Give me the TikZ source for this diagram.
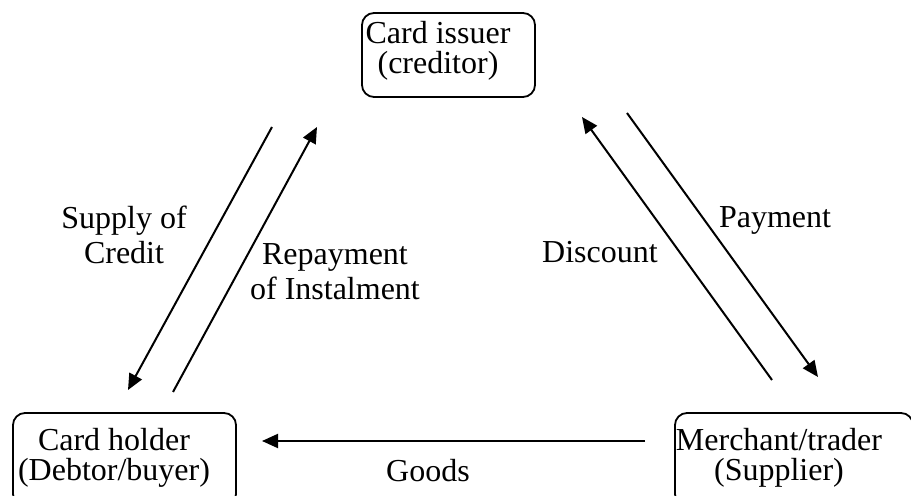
\documentclass[tikz,border=0pt]{standalone}
\usepackage{fontspec}
\setmainfont{Liberation Serif}
\usetikzlibrary{arrows.meta}

\begin{document}
\begin{tikzpicture}[x=0.5pt,y=-0.5pt]
\useasboundingbox (0,0) rectangle (911,496);

\begin{scope}[every node/.style={draw,rounded corners=6pt,line width=0.9pt}]
    \node[minimum width=86.5pt,minimum height=42pt] (issuer) at (448.5,55) {};
    \node[minimum width=111.5pt,minimum height=46.5pt] (holder) at (124.5,459.5) {};
    \node[minimum width=119pt,minimum height=46.5pt] (merchant) at (794,459.5) {};
\end{scope}

\begin{scope}[every node/.style={align=center,inner sep=0pt,font=\fontsize{16}{15}\selectfont}]
    \node (issuer text) at (438,51) {Card issuer\\(creditor)};
    \node (holder text) at (114,458) {Card holder\\(Debtor/buyer)};
    \node (merchant text) at (779,458) {Merchant/trader\\(Supplier)};
\end{scope}

\begin{scope}[every node/.style={align=center,inner sep=0pt,font=\fontsize{16}{17.5}\selectfont}]
    \node (supply) at (124,235) {Supply of\\Credit};
    \node (repay) at (335,272) {Repayment\\of Instalment};
    \node[anchor=base] (discount) at (600,263) {Discount};
    \node[anchor=base] (payment) at (775,228) {Payment};
    \node[anchor=base] (goods) at (428,482) {Goods};
\end{scope}

\coordinate (supply from) at (272,127);
\coordinate (supply to) at (128,390);
\coordinate (repay from) at (173,392);
\coordinate (repay to) at (317,127);
\coordinate (discount from) at (772,380);
\coordinate (discount to) at (582,117);
\coordinate (payment from) at (627,113);
\coordinate (payment to) at (818,377);
\coordinate (goods from) at (645,441);
\coordinate (goods to) at (262,441);

\begin{scope}[every edge/.style={draw=black,line width=1pt,
              -{Triangle[length=8pt,width=7pt]}}]
    \path (supply from) edge (supply to);
    \path (repay from) edge (repay to);
    \path (discount from) edge (discount to);
    \path (payment from) edge (payment to);
    \path (goods from) edge (goods to);
\end{scope}
\end{tikzpicture}
\end{document}
